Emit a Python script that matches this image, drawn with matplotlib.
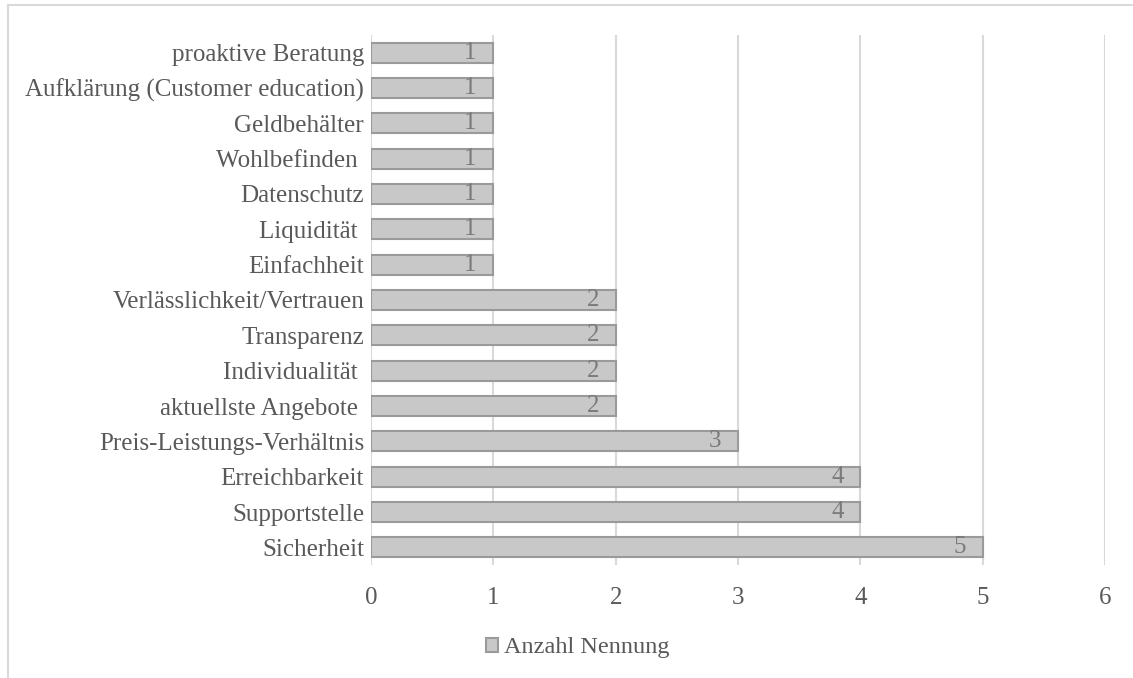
import matplotlib
matplotlib.use("Agg")
import matplotlib.pyplot as plt
from matplotlib.lines import Line2D

categories = [
    "Sicherheit",
    "Supportstelle",
    "Erreichbarkeit",
    "Preis-Leistungs-Verhältnis",
    "aktuellste Angebote ",
    "Individualität ",
    "Transparenz",
    "Verlässlichkeit/Vertrauen",
    "Einfachheit",
    "Liquidität ",
    "Datenschutz",
    "Wohlbefinden ",
    "Geldbehälter",
    "Aufklärung (Customer education)",
    "proaktive Beratung",
]
counts = [5, 4, 4, 3, 2, 2, 2, 2, 1, 1, 1, 1, 1, 1, 1]
xticks = [0, 1, 2, 3, 4, 5, 6]
series_name = "Anzahl Nennung"

plt.rcParams["font.family"] = ["Liberation Serif", "DejaVu Serif"]

fig = plt.figure(figsize=(11.33, 6.78), dpi=100)
ax = fig.add_axes([371 / 1133, 1 - 565 / 678, (1105 - 371) / 1133, (565 - 35) / 678])

text_col = "#595959"
bars = ax.barh(range(len(categories)), counts, height=0.56,
               color="#c8c8c8", edgecolor="#9a9a9a", linewidth=1.5,
               label=series_name, zorder=3)

for i, v in enumerate(counts):
    ax.annotate(str(v), xy=(v, i), xytext=(-12, 0), textcoords="offset points",
                ha="right", va="center", fontsize=18, color="#7a7a7a", zorder=4)

ax.set_xlim(0, 6)
ax.set_ylim(-0.5, len(categories) - 0.5)
ax.set_xticks(xticks)
ax.set_xticklabels([str(t) for t in xticks])
ax.set_yticks(range(len(categories)))
ax.set_yticklabels(categories)
ax.tick_params(axis="both", length=0, labelsize=18, colors=text_col)
ax.tick_params(axis="x", pad=16)
ax.tick_params(axis="y", pad=5)
ax.xaxis.grid(True, color="#d9d9d9", linewidth=1.5, zorder=0)
for s in ax.spines.values():
    s.set_visible(False)

leg = fig.legend(handles=[bars], labels=[series_name], loc="center",
                 bbox_to_anchor=(578 / 1133, 1 - 648 / 678), frameon=False,
                 fontsize=17.5, handlelength=0.5, handleheight=0.5,
                 handletextpad=0.25, labelcolor=text_col)

# light chart-area frame along the top and left edges
fig.add_artist(Line2D([8 / 1133, 1.0], [1 - 5 / 678, 1 - 5 / 678],
                      transform=fig.transFigure, color="#d9d9d9", linewidth=1.5))
fig.add_artist(Line2D([8 / 1133, 8 / 1133], [0.0, 1 - 5 / 678],
                      transform=fig.transFigure, color="#d9d9d9", linewidth=1.5))

fig.savefig("out.png", dpi=100, facecolor="white")
